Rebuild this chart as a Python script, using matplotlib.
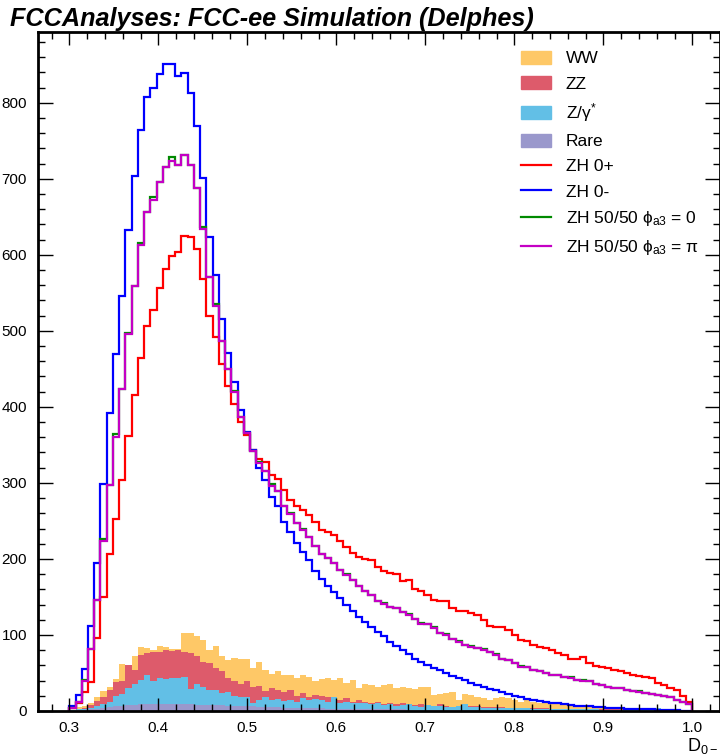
import numpy as np
import matplotlib
matplotlib.use('Agg')
from matplotlib import pyplot as plt
from matplotlib.patches import Patch
from matplotlib.lines import Line2D

plt.rcParams['font.family'] = ['Liberation Sans', 'DejaVu Sans']
plt.rcParams['mathtext.fontset'] = 'custom'
plt.rcParams['mathtext.rm'] = 'Liberation Sans'
plt.rcParams['mathtext.it'] = 'Liberation Sans:italic'
plt.rcParams['mathtext.bf'] = 'Liberation Sans:bold'

#%% Datos (100 bins entre 0.3 y 1.0)

nbins, xmin, xmax = 100, 0.3, 1.0

zh_0m = [6, 21, 55, 112, 195, 298, 392, 470, 546, 632,
         704, 764, 808, 819, 838, 851, 851, 835, 839, 813,
         770, 701, 623, 573, 516, 471, 433, 396, 367, 343,
         319, 304, 281, 270, 248, 235, 221, 209, 198, 184,
         173, 165, 157, 148, 140, 131, 123, 117, 111, 104,
         98, 91, 85, 80, 75, 69, 65, 61, 57, 54,
         50, 46, 44, 41, 37, 34, 32, 28.5, 27, 24.5,
         22, 20, 18, 16, 14.5, 13.5, 12, 11, 10, 9,
         8, 7, 7, 6, 5.5, 5, 4.5, 4, 3.5, 3,
         3, 2.5, 2, 2, 1.5, 1.5, 1, 1, 0.5, 0.5]

zh_0p = [4, 10, 25, 38, 96, 150, 207, 253, 304, 362,
         416, 464, 506, 528, 556, 581, 598, 604, 625, 623,
         607, 568, 520, 492, 456, 428, 404, 380, 363, 343,
         332, 327, 310, 305, 290, 278, 270, 264, 258, 249,
         238, 235, 231, 223, 216, 208, 203, 200, 198, 190,
         184, 182, 180, 171, 172, 161, 158, 153, 146, 145,
         145, 135, 132, 131, 128.5, 126, 120, 112, 111, 111,
         106.6, 100, 94, 92.5, 87, 84, 82.5, 80, 76, 74,
         68, 69, 71.5, 63, 59, 57.5, 56, 54, 52, 49.6,
         47, 46, 45, 43, 37, 34, 30, 27, 20, 12]

zh_mix_pi = [4, 12, 40, 82, 146, 224, 297, 361, 424, 496,
             559, 613, 656, 672, 696, 715, 724, 718, 731, 718,
             688, 634, 571, 532, 486, 450, 419, 387, 365, 342,
             326, 316, 296, 289, 270, 259, 247, 238, 229, 217,
             206, 201, 194, 186, 179, 172, 164, 158, 152, 145,
             141, 137, 135, 130, 126, 121, 115, 114, 109, 102,
             100, 95, 91, 87, 84.6, 82.5, 80, 78, 74, 69,
             67, 63.6, 58, 57.5, 54, 53, 50, 47, 47, 45,
             44, 41, 40, 40, 35.5, 34, 32, 30, 30, 27.6,
             26.7, 25.4, 24, 23, 21, 19.7, 18, 15, 12, 9]

zh_mix_0 = [4, 12, 41, 82, 146, 226, 297, 364, 424, 497,
            559, 616, 656, 676, 696, 715, 728, 718, 731, 718,
            688, 637, 571, 535, 486, 450, 421, 387, 365, 342,
            328, 316, 298, 289, 270, 260, 247, 240, 229, 217,
            207, 201, 195, 186, 180, 172, 165, 158, 153, 145,
            142, 137, 136, 130, 127, 121, 116, 114, 110, 102,
            101, 95, 92, 87, 85.5, 82.5, 81, 78, 75, 69,
            67.5, 63.6, 59, 57.5, 54.5, 53, 50.5, 47, 47.5, 45,
            44.5, 41, 41, 40, 35.5, 34.5, 32, 30, 30.5, 27.6,
            26.7, 25.8, 24, 23, 21.5, 19.7, 18, 15, 12, 9]

# fondos (contribucion de cada proceso por bin)
rare = [0.5, 1, 1.5, 2, 3, 4, 5, 6, 7, 8,
        8, 9, 9, 9, 9.5, 9.5, 9.5, 9.5, 9, 9,
        8.5, 8.5, 8, 8, 7.5, 7, 7, 6.5, 6, 6,
        5.5, 5.5, 5, 5, 4.5, 4.5, 4, 4, 4, 3.5,
        3.5, 3, 3, 3, 3, 2.5, 2.5, 2.5, 2.5, 2,
        2, 2, 2, 2, 1.5, 1.5, 1.5, 1.5, 1.5, 1.5,
        1, 1, 1, 1, 1, 1, 1, 1, 1, 1,
        0.8, 0.8, 0.8, 0.8, 0.8, 0.8, 0.8, 0.8, 0.8, 0.8,
        0.5, 0.5, 0.5, 0.5, 0.5, 0.5, 0.5, 0.5, 0.5, 0.5,
        0.5, 0.5, 0.5, 0.5, 0.5, 0.5, 0.5, 0.5, 0.5, 0.0]

zgamma = [0.5, 1, 1.5, 2, 3, 5, 7, 14, 16, 22,
          28, 32, 39, 30, 33.5, 32.5, 33.5, 34.5, 36, 20,
          26.5, 22.5, 20, 19, 16.5, 18, 13, 11.5, 13, 4,
          9.5, 12.5, 9, 11, 8.5, 10.5, 8, 13, 10, 12.5,
          11, 9, 15, 7, 9, 8.5, 7.5, 8.5, 6.5, 8,
          6, 7, 4.6, 6, 7.5, 5.1, 4.2, 6.5, 4.5, 5.5,
          4.5, 4, 5, 8, 4, 4, 3.5, 3.5, 3, 3,
          3.2, 2.7, 2.7, 2.7, 2.2, 2.2, 2.2, 1.7, 1.7, 1.7,
          1.5, 1.5, 1.5, 1.5, 1.5, 1, 1, 1, 1, 1,
          1, 1, 1, 1, 3.5, 0.5, 0.5, 0.5, 0.5, 0.5]

zz = [0, 1, 1, 4, 7, 10, 15, 18, 17, 30,
      18, 33, 28, 38, 35, 38, 36, 36, 33, 47,
      37, 34, 35, 29, 28, 18, 19, 18, 20, 21,
      18, 8, 16, 11, 12, 12, 8, 7, 5, 5,
      5.5, 6, 1, 4.5, 4.6, 1, 4.5, 1, 2, 2,
      1, 1, 2.4, 2, 0, 1.4, 3.3, 0, 0, 2,
      1.1, 0.7, 1, 0, 1, 1, 1, 0.5, 1, 1,
      0.5, 1, 0.5, 0.5, 0.5, 0.5, 0.5, 0.5, 0.5, 0.5,
      0.5, 0.5, 0.5, 0.5, 0.5, 0.5, 0.5, 0.5, 0.5, 0.5,
      0.5, 0.5, 0.5, 0.5, 0, 0.5, 0.5, 0, 0, 0]

ww = [0, 2, 3, 3, 6, 7, 5, 4, 22, 0,
      18, 10, 7, 3, 7, 4, 2, 2, 24, 27,
      26, 28, 17, 30, 20, 24, 31, 32, 29, 26,
      31, 28, 19, 26, 22, 21, 24, 23, 26, 19,
      22, 25, 22, 28.5, 20.4, 29, 15.5, 24, 23, 20,
      25, 25, 21, 22, 21, 20.5, 23, 23.4, 15.3, 14,
      17.4, 19.3, 8, 13, 15, 13, 11.5, 10, 12, 14,
      12.5, 10, 8, 10.5, 8.5, 6.5, 7.5, 7, 6, 6,
      5.5, 4.1, 3.2, 2.5, 2.5, 2.5, 2, 2, 1.5, 1.5,
      1, 1, 0.5, 0.5, 0, 0.5, 0, 0.5, 0, 0.5]

#%% Figura

edges = np.linspace(xmin, xmax, nbins + 1)

fig = plt.figure(figsize=(7.2, 7.56), dpi=100)
ax = fig.add_axes([38/720, 45/756, 682/720, 679/756])

bkg = [('Rare', rare, '#9a98cc'), (r'Z/$\mathregular{\gamma^{*}}$', zgamma, '#62bfe6'),
       ('ZZ', zz, '#dd5b6b'), ('WW', ww, '#fec867')]
base = np.zeros(nbins)
for name, vals, col in bkg:
    top = base + np.array(vals)
    ax.stairs(top, edges, baseline=base, fill=True, color=col, lw=0)
    base = top

sig = [(zh_0p, '#ff0000'), (zh_0m, '#0000ff'), (zh_mix_0, '#008a00'), (zh_mix_pi, '#c400c4')]
for vals, col in sig:
    ax.stairs(vals, edges, color=col, lw=1.6)

ax.set_xlim(0.2648, 1.0311)
ax.set_ylim(0, 893)

ax.set_xticks(np.arange(0.3, 1.01, 0.1))
ax.set_xticks(np.arange(0.28, 1.031, 0.02), minor=True)
ax.set_yticks(np.arange(0, 801, 100))
ax.set_yticks(np.arange(0, 893, 20), minor=True)
ax.xaxis.set_major_formatter(plt.FuncFormatter(lambda v, p: '%.1f' % v))

ax.tick_params(which='both', direction='in', top=True, right=True, labelsize=11, width=1, color='black')
ax.tick_params(axis='x', which='major', length=9.5, pad=7.5)
ax.tick_params(axis='x', which='minor', length=4.7)
ax.tick_params(axis='y', which='major', length=10.5, pad=8)
ax.tick_params(axis='y', which='minor', length=5)
for s in ax.spines.values():
    s.set_linewidth(2)

handles = [Patch(color='#fec867'), Patch(color='#dd5b6b'), Patch(color='#62bfe6'), Patch(color='#9a98cc'),
           Line2D([], [], color='#ff0000', lw=1.6), Line2D([], [], color='#0000ff', lw=1.6),
           Line2D([], [], color='#008a00', lw=1.6), Line2D([], [], color='#c400c4', lw=1.6)]
labels = ['WW', 'ZZ', r'Z/$\mathregular{\gamma^{*}}$', 'Rare', 'ZH 0+', 'ZH 0-',
          r'ZH 50/50 $\mathregular{\phi_{a3}}$ = 0', r'ZH 50/50 $\mathregular{\phi_{a3}}$ = $\mathregular{\pi}$']
ax.legend(handles, labels, loc='upper left', bbox_to_anchor=(0.708, 0.972), frameon=False,
          fontsize=12.5, handlelength=1.75, handleheight=0.75, handletextpad=0.85,
          labelspacing=0.56, borderpad=0, borderaxespad=0)

fig.text(10/720, 1 - 26/756, 'FCCAnalyses: FCC-ee Simulation (Delphes)', fontsize=18.2,
         fontweight='bold', fontstyle='italic', va='baseline', ha='left')
fig.text(718/720, 1 - 751/756, r'$\mathregular{D_{0-}}$', fontsize=13, ha='right', va='baseline')

fig.savefig('out.png', dpi=100)
